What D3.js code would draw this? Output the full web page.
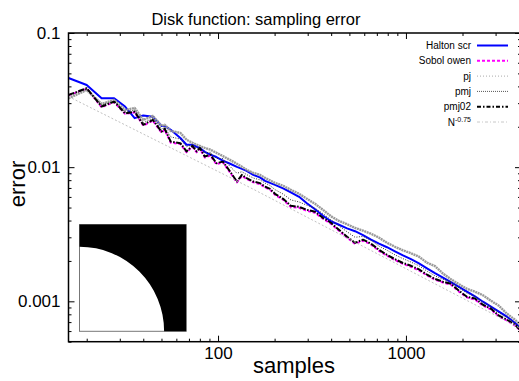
<!DOCTYPE html>
<html><head><meta charset="utf-8">
<script src="https://cdn.jsdelivr.net/npm/d3@7"></script>
<style>body{margin:0;background:#fff}svg{display:block}text{font-family:"Liberation Sans",Arial,sans-serif}</style>
</head><body><svg id="c" width="519" height="381"></svg>
<script>
// ---- data ----
const samples = [16,20,24,28,32,36,40,45,50,52,56,63,68,73,77,80,85,91,98,106,116,126,134,142,154,167,178,189,201,222,244,270,297,328,362,399,440,486,536,591,652,719,793,874,964,1064,1173,1294,1427,1574,1736,1915,2112,2329,2569,2833,3125,3446,3801,4096];
const haltonScr = [0.0462,0.0410,0.0326,0.0326,0.0283,0.0232,0.0243,0.0238,0.0203,0.0203,
0.0190,0.0165,0.0147,0.0147,0.0142,0.0139,0.0130,0.0124,0.0119,0.0112,
0.0106,0.01005,0.00971,0.00939,0.00876,0.00840,0.00791,0.00764,0.00738,0.00695,
0.00649,0.00601,0.00538,0.00485,0.00434,0.00395,0.00372,0.00350,0.00333,0.00311,
0.00288,0.00269,0.00253,0.00236,0.00220,0.00206,0.00192,0.00176,0.00162,0.00150,
0.00139,0.00128,0.00118,0.00109,0.000993,0.000912,0.000837,0.000768,0.000693,0.000625];
const sobolOwen = [0.0343,0.0385,0.0280,0.0305,0.0250,0.0256,0.0204,0.0222,0.0181,0.0190,
0.0152,0.0149,0.0129,0.0142,0.0129,0.0137,0.0118,0.0122,0.0105,0.0109,
0.00910,0.00770,0.00862,0.00815,0.00772,0.00748,0.00706,0.00680,0.00622,0.00572,
0.00505,0.00498,0.00472,0.00457,0.00412,0.00378,0.00336,0.00298,0.00268,0.00283,
0.00265,0.00238,0.00219,0.00203,0.00190,0.00181,0.00170,0.00156,0.00145,0.00138,
0.00133,0.00118,0.00107,0.00103,0.000930,0.000870,0.000772,0.000720,0.000660,0.000598];
const pj = [0.0326,0.0376,0.0296,0.0317,0.0267,0.0276,0.0225,0.0241,0.0203,0.0207,
0.0186,0.0180,0.0160,0.0152,0.0147,0.0144,0.0139,0.0135,0.0128,0.0121,
0.0113,0.0106,0.01005,0.00955,0.00907,0.00876,0.00832,0.00797,0.00764,0.00726,
0.00678,0.00633,0.00581,0.00533,0.00481,0.00430,0.00398,0.00375,0.00353,0.00336,
0.00319,0.00298,0.00273,0.00255,0.00240,0.00228,0.00215,0.00194,0.00183,0.00161,
0.00146,0.00134,0.00124,0.00118,0.00111,0.00101,0.000927,0.000808,0.000730,0.000658];
const pmj = [0.0340,0.0382,0.0290,0.0312,0.0258,0.0266,0.0214,0.0232,0.0192,0.0199,
0.0168,0.0162,0.0142,0.0147,0.0138,0.0141,0.0128,0.0129,0.0116,0.0116,
0.0101,0.0090,0.00925,0.00880,0.00830,0.00805,0.00760,0.00730,0.00680,0.00630,
0.00570,0.00550,0.00520,0.00495,0.00450,0.00405,0.00365,0.00330,0.00300,0.00305,
0.00285,0.00258,0.00240,0.00222,0.00208,0.00196,0.00184,0.00168,0.00155,0.00146,
0.00140,0.00126,0.00115,0.00109,0.000985,0.000915,0.000820,0.000760,0.000690,0.000625];
const pmj02 = [0.03455,0.03875,0.0283,0.0308,0.0252,0.0259,0.0207,0.0225,0.0184,0.0193,
0.0155,0.0151,0.0131,0.0144,0.0131,0.0139,0.0120,0.0124,0.0107,0.0110,
0.00927,0.00781,0.00876,0.00828,0.00781,0.00760,0.00717,0.00689,0.00633,0.00581,
0.00515,0.00506,0.00481,0.00465,0.00419,0.00385,0.00341,0.00303,0.00273,0.00288,
0.00269,0.00242,0.00222,0.00206,0.00193,0.00184,0.00173,0.00158,0.00147,0.00140,
0.00135,0.00120,0.00108,0.00105,0.000943,0.000881,0.000781,0.000730,0.000669,0.000604];
const refSamples = [16,148,1000,4096];
const refValues = [0.0336,0.00705,0.00175,0.000626];
const xMajorTicks = [100,1000];
const xMinorTicks = [20,30,40,50,60,70,80,90,200,300,400,500,600,700,800,900,2000,3000,4000];
const yMajorTicks = [0.001,0.01,0.1];
const yMinorTicks = [0.0005,0.0006,0.0007,0.0008,0.0009,0.002,0.003,0.004,0.005,0.006,0.007,0.008,0.009,0.02,0.03,0.04,0.05,0.06,0.07,0.08,0.09];
const seriesNames = ["Halton scr","Sobol owen","pj","pmj","pmj02"];

// ---- layout ----
const svg = d3.select("#c");
const m = {left:68.5, right:521, top:33, bottom:341.7};
const x = d3.scaleLog().domain([16,4096]).range([m.left,m.right]);
const y = d3.scaleLog().domain([0.0005,0.1]).range([m.bottom,m.top]);
const FONT = '"Liberation Sans",Arial,sans-serif';

svg.append("rect").attr("width",519).attr("height",381).attr("fill","#fff");

svg.append("defs").append("clipPath").attr("id","clip")
  .append("rect").attr("x",m.left).attr("y",m.top).attr("width",m.right-m.left).attr("height",m.bottom-m.top);

// ---- series ----
const styles = [
  {name:seriesNames[0], data:haltonScr, color:"#0000ff", w:2, dash:null, lw:2, ldash:null, lcolor:"#0000ff"},
  {name:seriesNames[1], data:sobolOwen, color:"#ff00ff", w:2, dash:"3,2", lw:2, ldash:"3,2", lcolor:"#ff00ff"},
  {name:seriesNames[2], data:pj, color:"#9a9a9a", w:2.4, dash:"2,0.6", lw:1, ldash:"1,2", lcolor:"#aaaaaa"},
  {name:seriesNames[3], data:pmj, color:"#333333", w:1, dash:"1,1.5", lw:1, ldash:"1,1", lcolor:"#555555"},
  {name:seriesNames[4], data:pmj02, color:"#000000", w:2, dash:"6,1.5,1.5,1.5", lw:2, ldash:"4,2,1.5,2", lcolor:"#000000"}
];
const line = d3.line().x(d=>x(d[0])).y(d=>y(d[1]));
const plot = svg.append("g").attr("clip-path","url(#clip)");
styles.forEach(s=>{
  plot.append("path").datum(samples.map((n,i)=>[n,s.data[i]]))
    .attr("d",line).attr("fill","none").attr("stroke",s.color)
    .attr("stroke-width",s.w).attr("stroke-dasharray",s.dash).attr("stroke-linejoin","round");
});
plot.append("path").datum(refSamples.map((n,i)=>[n,refValues[i]]))
  .attr("d",line).attr("fill","none").attr("stroke","#c0c0c0").attr("stroke-width",1)
  .attr("stroke-dasharray","2,2");

// ---- inset (disk function image) ----
const side = 106.7, insL = m.left + 11, insB = m.bottom - 10.4, insT = insB - side, r = side*0.793;
svg.append("rect").attr("x",insL).attr("y",insT).attr("width",side).attr("height",side)
  .attr("fill","#fff").attr("stroke","#777").attr("stroke-width",1);
svg.append("path").attr("fill","#000")
  .attr("d",`M${insL},${insB-r} A${r},${r} 0 0 1 ${insL+r},${insB} L${insL+side},${insB} L${insL+side},${insT} L${insL},${insT} Z`);

// ---- axes ----
function styleAxis(g){ g.select(".domain").remove(); g.selectAll("line").attr("stroke","#000"); g.attr("font-family",FONT).attr("font-size",17); g.selectAll("text").attr("fill","#000"); }
svg.append("g").attr("transform",`translate(0,${m.bottom})`)
  .call(d3.axisBottom(x).tickValues(xMajorTicks).tickFormat(d3.format("d")).tickSize(-6).tickSizeOuter(0).tickPadding(5)).call(styleAxis);
svg.append("g").attr("transform",`translate(0,${m.bottom})`)
  .call(d3.axisBottom(x).tickValues(xMinorTicks).tickFormat("").tickSize(-3).tickSizeOuter(0)).call(styleAxis);
svg.append("g").attr("transform",`translate(0,${m.top})`)
  .call(d3.axisTop(x).tickValues(xMajorTicks).tickFormat("").tickSize(-6).tickSizeOuter(0)).call(styleAxis);
svg.append("g").attr("transform",`translate(0,${m.top})`)
  .call(d3.axisTop(x).tickValues(xMinorTicks).tickFormat("").tickSize(-3).tickSizeOuter(0)).call(styleAxis);
svg.append("g").attr("transform",`translate(${m.left},0)`)
  .call(d3.axisLeft(y).tickValues(yMajorTicks).tickFormat(d=>String(d)).tickSize(-6).tickSizeOuter(0).tickPadding(8)).call(styleAxis);
svg.append("g").attr("transform",`translate(${m.left},0)`)
  .call(d3.axisLeft(y).tickValues(yMinorTicks).tickFormat("").tickSize(-3).tickSizeOuter(0)).call(styleAxis);
svg.append("g").attr("transform",`translate(${m.right},0)`)
  .call(d3.axisRight(y).tickValues(yMajorTicks).tickFormat("").tickSize(-6).tickSizeOuter(0)).call(styleAxis);
svg.append("g").attr("transform",`translate(${m.right},0)`)
  .call(d3.axisRight(y).tickValues(yMinorTicks).tickFormat("").tickSize(-3).tickSizeOuter(0)).call(styleAxis);
svg.append("rect").attr("x",m.left).attr("y",m.top).attr("width",m.right-m.left).attr("height",m.bottom-m.top)
  .attr("fill","none").attr("stroke","#000").attr("stroke-width",1.5);

// ---- texts ----
svg.append("text").attr("x",256).attr("y",25).attr("text-anchor","middle").attr("font-size",16.5).text("Disk function: sampling error");
svg.append("text").attr("x",294).attr("y",373).attr("text-anchor","middle").attr("font-size",22).text("samples");
svg.append("text").attr("transform","translate(25,184) rotate(-90)").attr("text-anchor","middle").attr("font-size",22).text("error");

// ---- legend ----
const legX = 471, legY0 = 45.5, legDY = 15.3;
const legItems = styles.map(s=>({label:s.name, color:s.lcolor, w:s.lw, dash:s.ldash}));
legItems.push({label:null, color:"#c8c8c8", w:1, dash:"3,2,1,2"});
const leg = svg.append("g").attr("font-family",FONT).attr("font-size",10);
legItems.forEach((it,i)=>{
  const yy = legY0 + i*legDY;
  const t = leg.append("text").attr("x",legX).attr("y",yy).attr("dy","0.35em").attr("text-anchor","end");
  if(it.label) t.text(it.label);
  else { t.append("tspan").text("N"); t.append("tspan").attr("dy",-4).attr("font-size",7).text("-0.75"); }
  leg.append("line").attr("x1",477).attr("x2",508).attr("y1",yy).attr("y2",yy)
    .attr("stroke",it.color).attr("stroke-width",it.w).attr("stroke-dasharray",it.dash);
});
</script></body></html>
